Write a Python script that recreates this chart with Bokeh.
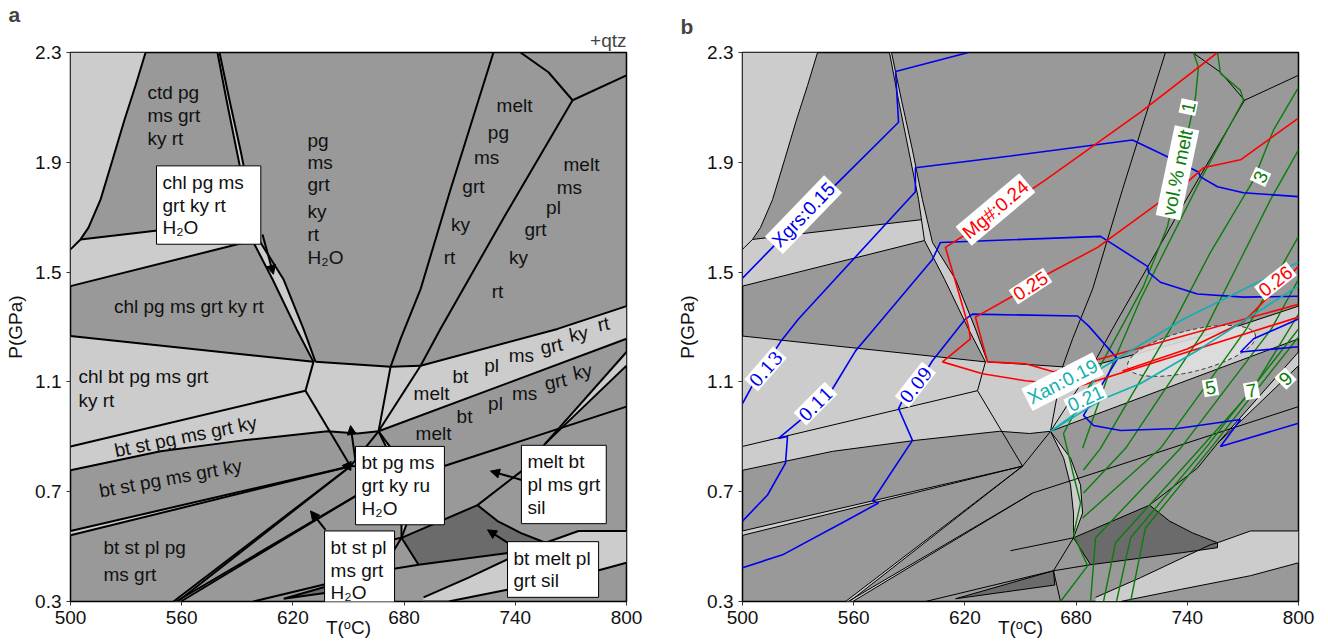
from bokeh.plotting import figure
from bokeh.layouts import row
from bokeh.models import Range1d, FixedTicker, Label, Arrow, NormalHead, Title
from bokeh.embed import file_html
from bokeh.resources import INLINE

FONT = "Liberation Sans"
SERIF = "DejaVu Serif"
LIGHT = "#cccccc"
MID = "#999999"
DARK = "#6b6b6b"
INK = "#111111"

# ---------------- axes ----------------
x_ticks = [500, 560, 620, 680, 740, 800]
y_ticks = [0.3, 0.7, 1.1, 1.5, 1.9, 2.3]
y_tick_labels = ["0.3", "0.7", "1.1", "1.5", "1.9", "2.3"]

# ---------------- field geometry (T degC, P GPa) ----------------
curve_a = [(540.5, 2.3), (535.1, 2.18), (529.1, 2.054), (522.7, 1.909), (516.2, 1.764),
           (509.7, 1.662), (505.4, 1.619), (501.1, 1.59), (500, 1.583)]
fld_l1 = [(500, 2.3)] + curve_a
fld_l2 = [(500, 1.583), (501.1, 1.59), (505.4, 1.619), (596.6, 1.691), (598.2, 1.615), (500, 1.449)]
strip_left = [(579.3, 2.3), (584.2, 2.126), (589.6, 1.945), (595.0, 1.764), (598.2, 1.615),
              (609.0, 1.474), (621.9, 1.293), (631.1, 1.173)]
strip_right = [(580.4, 2.3), (585.8, 2.126), (591.7, 1.945), (597.1, 1.764), (602.5, 1.608),
               (614.9, 1.474), (625.7, 1.293), (632.2, 1.173)]
fld_l3 = [(500, 1.267), (631.1, 1.173), (632.2, 1.173), (672.7, 1.155), (688.9, 1.159),
          (762.8, 1.293), (800, 1.376), (800, 1.257), (666.2, 0.920), (654.9, 0.912),
          (638.7, 0.920), (593.3, 0.887), (548.6, 0.847), (500, 0.778)]
fld_d1 = [(500, 0.557), (651.1, 0.793), (500, 0.541)]
fld_f1 = [(555.6, 0.3), (651.1, 0.793), (557.8, 0.3)]
fld_f2 = [(557.0, 0.3), (656.5, 0.695), (559.5, 0.3)]
fld_dbl = [(756.3, 0.876), (800, 1.209), (800, 1.159)]
l4_top = [(690.5, 0.315), (714.8, 0.387), (752.5, 0.507), (756.3, 0.514), (774.1, 0.557), (800, 0.557)]
l4_bot = [(800, 0.441), (774.1, 0.394), (736.3, 0.344), (703.9, 0.3), (690.5, 0.3)]
fld_l4 = l4_top + l4_bot
cres_left = [(666.2, 0.92), (673.3, 0.822), (677.0, 0.724), (678.6, 0.622), (678.6, 0.532)]
cres_right = [(666.2, 0.92), (677.0, 0.822), (682.4, 0.724), (683.5, 0.622), (678.6, 0.532)]
fld_k1 = [(678.6, 0.532), (719.6, 0.651), (730.4, 0.593), (742.8, 0.550), (756.3, 0.514),
          (756.3, 0.496), (737.4, 0.478), (687.8, 0.434), (678.6, 0.532)]
fld_k2 = [(615.0, 0.310), (667.8, 0.412), (668.5, 0.360), (615.0, 0.310)]

bounds = [
    curve_a,
    [(505.4, 1.619), (596.6, 1.691)],
    [(500, 1.449), (598.2, 1.615)],
    strip_left, strip_right,
    [(500, 1.267), (631.1, 1.173)],
    [(632.2, 1.173), (672.7, 1.155), (688.9, 1.159)],
    [(631.1, 1.173), (626.8, 1.068)],
    [(500, 0.865), (626.8, 1.068)],
    [(626.8, 1.068), (651.1, 0.793)],
    [(500, 0.778), (548.6, 0.847), (593.3, 0.887), (638.7, 0.920), (654.9, 0.912), (666.2, 0.920)],
    [(728.2, 2.3), (705.0, 1.800), (688.9, 1.438), (678.1, 1.257), (672.7, 1.155), (666.2, 0.920)],
    [(770.9, 2.126), (734.7, 1.709), (699.6, 1.293), (688.9, 1.159)],
    [(742.8, 2.3), (757.9, 2.228), (770.9, 2.126), (800, 2.217)],
    [(688.9, 1.159), (762.8, 1.293), (800, 1.376)],
    [(688.9, 1.159), (666.2, 0.920)],
    [(666.2, 0.920), (800, 1.257)],
    [(656.5, 0.695), (699.6, 0.789), (800, 1.010)],
    [(666.2, 0.920), (651.1, 0.793)],
    [(500, 0.557), (651.1, 0.793)], [(500, 0.541), (651.1, 0.793)],
    [(555.6, 0.3), (651.1, 0.793)], [(557.8, 0.3), (651.1, 0.793)],
    [(557.0, 0.3), (656.5, 0.695)], [(559.5, 0.3), (656.5, 0.695)],
    cres_left, cres_right,
    [(678.6, 0.532), (667.8, 0.412), (671.6, 0.3)],
    fld_k1,
    [(687.8, 0.434), (667.8, 0.412)],
    [(644.6, 0.485), (678.6, 0.532)],
    [(719.6, 0.651), (745.5, 0.786), (756.3, 0.876)],
    [(756.3, 0.876), (800, 1.209)], [(756.3, 0.876), (800, 1.159)],
    l4_top, l4_bot,
    [(598.7, 0.3), (667.8, 0.412)],
    fld_k2,
]

# ---------------- panel a labels ----------------
lab_left = [("ctd pg", 541.5, 2.155), ("ms grt", 541.5, 2.072), ("ky rt", 541.5, 1.988),
            ("pg", 627.9, 1.981), ("ms", 627.9, 1.901), ("grt", 627.9, 1.818),
            ("ky", 627.9, 1.720), ("rt", 627.9, 1.637), ("H₂O", 627.9, 1.554),
            ("chl bt pg ms grt", 504.3, 1.119), ("ky rt", 504.3, 1.032),
            ("bt st pl pg", 517.8, 0.496), ("ms grt", 517.8, 0.398)]
lab_center = [("melt", 739.6, 2.108, 0), ("pg", 730.9, 2.007, 0), ("ms", 724.5, 1.916, 0),
              ("grt", 717.4, 1.811, 0), ("ky", 710.4, 1.673, 0), ("rt", 704.5, 1.554, 0),
              ("melt", 775.7, 1.891, 0), ("ms", 769.2, 1.807, 0), ("pl", 760.6, 1.735, 0),
              ("grt", 750.9, 1.655, 0), ("ky", 741.7, 1.554, 0), ("rt", 730.4, 1.430, 0),
              ("chl pg ms grt ky rt", 563.9, 1.376, 0),
              ("bt st pg ms grt ky", 562.1, 0.901, 0.20), ("bt st pg ms grt ky", 554.0, 0.749, 0.18),
              ("melt", 694.8, 1.057, 0), ("bt", 710.4, 1.119, 0), ("pl", 727.2, 1.159, 0),
              ("ms", 743.3, 1.195, 0), ("grt", 759.5, 1.231, 0.2), ("ky", 774.1, 1.275, 0.2),
              ("rt", 787.6, 1.311, 0.2),
              ("melt", 695.9, 0.912, 0), ("bt", 712.6, 0.974, 0), ("pl", 729.3, 1.021, 0),
              ("ms", 745.0, 1.057, 0), ("grt", 761.7, 1.101, 0.2), ("ky", 776.3, 1.137, 0.2)]
# text, T, P of box top-left, right padding
boxes_a = [("chl pg ms\ngrt ky rt\nH₂O", 546.4, 1.887, 17),
           ("bt pg ms\ngrt ky ru\nH₂O", 653.8, 0.865, 10),
           ("bt st pl\nms grt\nH₂O", 637.1, 0.557, 8),
           ("melt bt\npl ms grt\nsil", 743.3, 0.869, 6),
           ("bt melt pl\ngrt sil", 735.8, 0.518, 8)]
arrows_a = [(603.6, 1.637, 609.5, 1.492), (653.8, 0.811, 651.1, 0.941),
            (653.8, 0.793, 646.5, 0.795), (637.6, 0.561, 629.5, 0.630),
            (743.9, 0.742, 726.6, 0.775), (736.9, 0.510, 725.0, 0.561)]

# ---------------- panel b isopleths ----------------
grs_015 = [(621.9, 2.3), (582.6, 2.231), (584.2, 2.046), (551.3, 1.825), (516.2, 1.590), (500, 1.478)]
grs_013 = [(500, 1.021), (505.9, 1.094), (520.5, 1.246), (530.2, 1.329), (593.3, 1.793), (593.3, 1.880),
           (644.6, 1.923), (710.4, 1.981), (729.3, 1.920), (746.0, 1.865), (747.1, 1.847),
           (756.3, 1.811), (770.3, 1.789), (800, 1.775)]
grs_011 = [(500, 0.593), (513.5, 0.688), (523.2, 0.804), (524.3, 0.901), (519.4, 0.894), (532.4, 0.967),
           (548.6, 1.075), (561.0, 1.213), (575.5, 1.329), (602.5, 1.546), (606.8, 1.608),
           (693.2, 1.630), (718.5, 1.521), (719.1, 1.499), (725.5, 1.463), (745.5, 1.420),
           (770.3, 1.409), (800, 1.412)]
grs_009 = [(500, 0.423), (521.6, 0.470), (555.6, 0.593), (573.4, 0.659), (570.1, 0.666), (591.7, 0.887),
           (584.2, 1.003), (586.3, 1.032), (599.8, 1.148), (602.5, 1.177), (620.3, 1.329),
           (624.1, 1.347), (680.8, 1.340), (686.7, 1.304), (702.3, 1.184), (695.9, 1.112),
           (684.0, 0.978), (689.4, 0.941), (704.0, 0.923), (734.7, 0.930), (768.7, 0.963),
           (757.9, 0.865), (800, 0.949)]
grs_007 = [(800, 1.329), (775.8, 1.257), (768.7, 1.209), (800, 1.228)]
mg_024 = [(756.3, 2.3), (714.8, 2.083), (663.5, 1.836), (621.9, 1.644), (609.5, 1.590), (621.9, 1.304),
          (623.0, 1.257), (607.9, 1.173), (629.5, 1.130), (652.7, 1.104), (682.4, 1.086), (800, 1.336)]
mg_025 = [(800, 2.061), (768.7, 1.909), (748.7, 1.880), (740.1, 1.829), (691.6, 1.590), (662.4, 1.485),
          (645.7, 1.412), (625.7, 1.336), (632.2, 1.173), (652.7, 1.166), (667.8, 1.137), (800, 1.383)]
mg_026 = [(800, 1.521), (770.3, 1.318), (740.0, 1.220), (705.0, 1.140)]
an_019 = [(666.2, 0.920), (679.7, 0.985), (693.2, 1.148), (738.0, 1.329), (800, 1.536)]
an_021 = [(666.2, 0.920), (694.8, 1.039), (714.8, 1.094), (747.1, 1.221), (800, 1.450)]
melt_1 = [(743.3, 2.3), (746.0, 2.246), (744.4, 2.137), (729.3, 1.666), (716.4, 1.449), (704.0, 1.293),
          (687.8, 1.094), (673.2, 0.912), (678.6, 0.760), (682.4, 0.659), (678.6, 0.543),
          (686.2, 0.430), (671.6, 0.3)]
melt_2 = [(756.3, 2.3), (757.9, 2.224), (768.7, 2.162), (770.3, 2.126), (747.1, 1.836), (725.5, 1.546),
          (714.8, 1.401), (698.6, 1.148), (683.5, 0.858)]
melt_3 = [(800, 2.173), (786.5, 2.017), (775.8, 1.836), (752.5, 1.572), (730.9, 1.293), (693.2, 0.858),
          (684.0, 0.779)]
melt_4 = [(800, 1.945), (784.9, 1.764), (768.7, 1.546), (749.8, 1.293), (706.7, 0.858), (684.0, 0.695)]
melt_5 = [(800, 1.630), (771.9, 1.293), (749.3, 1.079), (725.5, 0.858), (683.5, 0.604)]
melt_6 = [(800, 1.474), (785.4, 1.293), (736.3, 0.858), (690.5, 0.532), (687.8, 0.3)]
melt_7 = [(800, 1.347), (774.7, 1.068), (747.1, 0.858), (701.3, 0.514), (694.8, 0.3)]
melt_8 = [(800, 1.293), (749.8, 0.858), (709.4, 0.532), (701.8, 0.3)]
melt_9 = [(800, 1.264), (752.5, 0.858), (717.4, 0.568), (709.4, 0.3)]

ellipse_b = dict(T=742.3, P=1.213, w=71.0, h=0.15, angle=0.244)

BLUE = "#0000ee"
RED = "#ff0000"
CYAN = "#11b0b0"
GREEN = "#0b7d0b"
# text, T, P, angle (deg), colour, font
labels_b = [("Xgrs:0.15", 532.9, 1.709, 46, BLUE, FONT), ("0.13", 512.4, 1.148, 49, BLUE, SERIF),
            ("0.11", 539.4, 1.021, 45, BLUE, SERIF), ("0.09", 593.3, 1.090, 52, BLUE, SERIF),
            ("Mg#:0.24", 636.5, 1.728, 40, RED, FONT), ("0.25", 655.4, 1.449, 33, RED, FONT),
            ("0.26", 787.6, 1.467, 38, RED, FONT),
            ("Xan:0.19", 672.7, 1.101, 27, CYAN, FONT), ("0.21", 685.1, 1.039, 25, CYAN, FONT),
            ("vol.% melt", 734.7, 1.862, 78, GREEN, FONT), ("1", 740.6, 2.101, 78, GREEN, FONT),
            ("3", 779.5, 1.847, 65, GREEN, FONT), ("5", 752.5, 1.079, 10, GREEN, FONT),
            ("7", 774.7, 1.068, 10, GREEN, FONT), ("9", 793.0, 1.112, 45, GREEN, FONT)]


def xs_ys(lines):
    return [[t for t, _ in l] for l in lines], [[q for _, q in l] for l in lines]


def build(tag):
    is_a = tag == "a"
    lw = 2.0 if is_a else 1.0
    p = figure(width=672 if is_a else 648, height=640,
               x_range=Range1d(500, 800), y_range=Range1d(0.3, 2.3),
               output_backend="svg", toolbar_location=None,
               min_border_left=70, min_border_right=46 if is_a else 22,
               min_border_top=52, min_border_bottom=36)
    p.background_fill_color = MID
    p.border_fill_color = "white"
    p.grid.visible = False
    p.outline_line_color = "black"
    p.outline_line_width = 1.5

    p.xaxis.ticker = FixedTicker(ticks=x_ticks, minor_ticks=[])
    p.yaxis.ticker = FixedTicker(ticks=y_ticks, minor_ticks=[])
    p.yaxis.major_label_overrides = {t: s for t, s in zip(y_ticks, y_tick_labels)}
    for ax in (p.xaxis, p.yaxis):
        ax.major_label_text_font = FONT
        ax.major_label_text_font_size = "19px"
        ax.major_label_text_color = INK
        ax.major_tick_in = 0
        ax.major_tick_out = 4
        ax.minor_tick_line_color = None
        ax.axis_line_color = None
        ax.major_tick_line_color = "#333333"
        ax.axis_label_text_font = FONT
        ax.axis_label_text_font_size = "19px"
        ax.axis_label_text_font_style = "normal"
        ax.axis_label_text_color = INK
    p.yaxis.axis_label = "P(GPa)"
    p.yaxis.axis_label_standoff = 6
    p.xaxis.axis_label = "T(ᵒC)"
    p.xaxis.axis_label_standoff = -10

    # titles: panel letter (outer) and +qtz (inner)
    p.title.text = tag
    p.title.align = "left"
    p.title.offset = -62
    p.title.text_font = FONT
    p.title.text_font_size = "21px"
    p.title.text_font_style = "bold"
    if is_a:
        p.title.standoff = 0
        p.title.vertical_align = "bottom"
        p.add_layout(Title(text="+qtz", align="right", text_font=FONT, text_font_size="19px",
                           text_font_style="normal", standoff=4), "above")
    else:
        p.title.standoff = 26
        p.title.vertical_align = "top"

    lx, ly = xs_ys([fld_l1, fld_l2, strip_left + strip_right[::-1], fld_l3, fld_d1, fld_f1,
                    fld_f2, fld_dbl, fld_l4, cres_left + cres_right[::-1]])
    p.patches(lx, ly, fill_color=LIGHT, line_color=None)
    dx, dy = xs_ys([fld_k1, fld_k2])
    p.patches(dx, dy, fill_color=DARK, line_color=None)
    bx, by = xs_ys(bounds)
    p.multi_line(bx, by, line_color="black", line_width=lw)

    if is_a:
        for s, t, q in lab_left:
            p.add_layout(Label(x=t, y=q, text=s, text_font=FONT, text_font_size="19px",
                               text_align="left", text_baseline="middle", text_color=INK))
        for s, t, q, ang in lab_center:
            p.add_layout(Label(x=t, y=q, text=s, angle=ang, text_font=FONT, text_font_size="19px",
                               text_align="center", text_baseline="middle", text_color=INK))
        for x0, y0, x1, y1 in arrows_a:
            p.add_layout(Arrow(end=NormalHead(size=9, fill_color="black", line_color="black"),
                               x_start=x0, y_start=y0, x_end=x1, y_end=y1,
                               line_width=2, line_color="black"))
        for s, t, q, rp in boxes_a:
            p.add_layout(Label(x=t, y=q, text=s, text_font=FONT, text_font_size="19px",
                               text_align="left", text_baseline="top", text_line_height=1.08,
                               background_fill_color="white", border_line_color="black",
                               border_line_width=1,
                               padding=dict(left=6, right=rp, top=6, bottom=6),
                               text_color=INK))
    else:
        e = ellipse_b
        p.ellipse(x=[e["T"]], y=[e["P"]], width=[e["w"]], height=[e["h"]], angle=e["angle"],
                  fill_color="#dedede", fill_alpha=0.9, line_color="#333333",
                  line_dash="4 3", line_width=1)
        gx, gy = xs_ys([melt_1, melt_2, melt_3, melt_4, melt_5, melt_6, melt_7, melt_8, melt_9])
        p.multi_line(gx, gy, line_color=GREEN, line_width=1.4)
        bx2, by2 = xs_ys([grs_015, grs_013, grs_011, grs_009, grs_007])
        p.multi_line(bx2, by2, line_color=BLUE, line_width=1.6)
        rx, ry = xs_ys([mg_024, mg_025, mg_026])
        p.multi_line(rx, ry, line_color=RED, line_width=1.6)
        cx, cy = xs_ys([an_019, an_021])
        p.multi_line(cx, cy, line_color=CYAN, line_width=1.6)
        for s, t, q, ang, col, fnt in labels_b:
            p.add_layout(Label(x=t, y=q, text=s, angle=ang * 3.14159265 / 180.0,
                               text_font=fnt, text_font_size="19px" if fnt == FONT else "18px",
                               text_color=col, text_align="center", text_baseline="middle",
                               background_fill_color="white", padding=2))
    return p


pa = build("a")
pb = build("b")
layout = row(pa, pb)
open("out.html", "w").write(file_html(layout, INLINE, "phase diagram"))
